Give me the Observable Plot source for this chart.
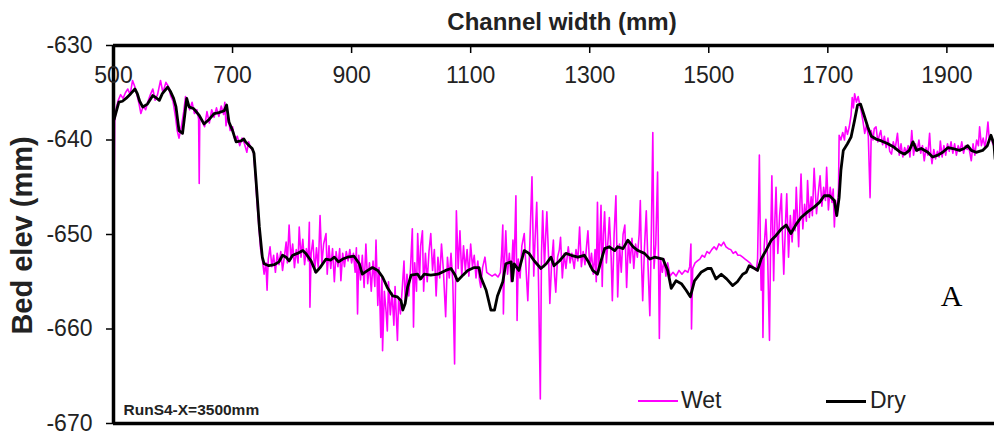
<!DOCTYPE html>
<html><head><meta charset="utf-8">
<script src="https://cdn.jsdelivr.net/npm/d3@7"></script>
<script src="https://cdn.jsdelivr.net/npm/@observablehq/plot@0.6"></script>
<style>
body{margin:0;background:#fff;}
#wrap{position:relative;width:995px;height:432px;font-family:"Liberation Sans",Arial,sans-serif;}
.sw{position:absolute;height:0;}
.lg{position:absolute;font-size:23px;line-height:23px;color:#222;}
</style></head><body><div id="wrap"></div>
<script>
const xTicks = [500, 700, 900, 1100, 1300, 1500, 1700, 1900];
const yTicks = [-630, -640, -650, -660, -670];
const seriesNames = ["Wet", "Dry"];

// Wet profile: [channel width mm, bed elevation mm]
const wetSeries = [
[500,-637.5],[501,-646.0],[502,-638.0],[505,-636.5],[508,-635.8],[512,-635.2],[516,-635.6],[520,-635.0],[524,-634.6],[528,-635.2],
[532,-633.7],[536,-634.4],[540,-635.4],[543,-636.2],[546,-637.2],[550,-636.4],[554,-636.8],[558,-635.9],[562,-635.2],[566,-634.6],
[570,-635.8],[574,-635.2],[579,-633.7],[583,-635.0],[588,-633.9],[592,-634.3],[596,-635.3],[600,-635.9],[604,-637.5],[607,-639.0],
[610,-639.8],[614,-638.6],[618,-637.0],[621,-635.4],[624,-636.0],[628,-636.8],[632,-636.0],[636,-637.2],[640,-636.8],[643,-637.8],
[644,-644.6],[645,-637.5],[649,-638.0],[653,-638.6],[657,-637.0],[661,-638.2],[665,-636.8],[669,-637.6],[673,-636.6],[677,-637.5],
[681,-636.4],[685,-637.3],[687,-636.0],[689,-638.5],[692,-637.3],[696,-639.0],[700,-638.6],[704,-640.0],[708,-639.6],[712,-640.6],
[716,-639.8],[720,-640.4],[724,-641.3],[727,-640.2],[731,-640.9],[735,-641.2],[738,-643.5],[741,-646.5],[744,-649.0],[747,-651.5],
[750,-652.6],[753,-654.2],[756,-653.0],[758,-655.9],[760,-652.6],[763,-651.3],[766,-653.4],[769,-652.2],[772,-654.0],[775,-652.0],
[778,-653.2],[781,-651.8],[784,-653.8],[787,-652.4],[790,-650.8],[792,-653.0],[795,-649.0],[798,-652.6],[801,-651.0],[804,-653.5],
[807,-651.6],[810,-653.0],[812,-649.2],[815,-652.4],[818,-650.5],[821,-653.2],[824,-651.5],[827,-652.8],[829,-648.7],[830,-657.7],
[832,-652.0],[835,-650.6],[838,-654.0],[841,-651.4],[844,-653.6],[847,-648.0],[850,-653.2],[853,-651.0],[857,-649.9],[859,-654.2],
[862,-651.2],[865,-653.6],[868,-651.5],[871,-655.0],[874,-651.8],[877,-653.4],[880,-651.5],[882,-654.9],[885,-652.0],[888,-653.4],
[891,-651.8],[894,-652.8],[897,-651.6],[900,-653.0],[903,-652.0],[906,-654.0],[908,-651.4],[910,-658.4],[912,-652.2],[915,-654.8],
[918,-652.2],[921,-655.6],[924,-651.0],[927,-655.2],[930,-653.0],[933,-656.0],[936,-652.8],[939,-655.5],[941,-650.6],[944,-657.5],
[946,-653.5],[949,-660.9],[951,-654.5],[952,-662.3],[955,-656.0],[958,-658.2],[960,-660.2],[962,-655.0],[965,-658.5],[968,-656.2],
[971,-659.6],[973,-655.5],[975,-658.5],[977,-661.2],[979,-656.8],[982,-658.4],[985,-655.8],[988,-652.8],[990,-657.0],[993,-654.2],
[996,-656.5],[999,-653.5],[1002,-649.4],[1004,-659.8],[1006,-653.0],[1009,-656.0],[1011,-649.9],[1014,-654.8],[1016,-651.2],[1019,-649.6],
[1021,-656.0],[1024,-652.0],[1027,-655.0],[1030,-651.8],[1033,-649.9],[1036,-653.8],[1039,-651.6],[1042,-656.5],[1045,-652.4],[1048,-654.6],
[1051,-651.0],[1054,-653.6],[1058,-658.7],[1061,-652.4],[1064,-654.6],[1067,-652.0],[1070,-655.0],[1073,-663.7],[1076,-647.5],[1079,-653.6],
[1082,-649.6],[1085,-654.5],[1088,-651.2],[1091,-653.8],[1094,-651.6],[1097,-654.4],[1100,-651.0],[1103,-653.4],[1106,-652.2],[1109,-654.6],
[1112,-652.8],[1115,-654.9],[1117,-655.6],[1120,-653.5],[1124,-652.4],[1127,-654.0],[1131,-654.2],[1136,-654.4],[1141,-654.2],[1146,-654.5],
[1150,-654.0],[1152,-652.0],[1154,-649.0],[1155,-658.4],[1157,-652.6],[1159,-649.6],[1162,-654.2],[1165,-652.0],[1168,-655.0],[1171,-650.6],
[1173,-653.4],[1176,-645.9],[1178,-659.1],[1180,-652.6],[1183,-654.6],[1186,-651.2],[1190,-649.9],[1193,-653.6],[1196,-657.0],[1199,-651.8],
[1203,-643.9],[1206,-654.4],[1208,-650.8],[1211,-646.6],[1214,-655.0],[1217,-667.4],[1219,-652.0],[1221,-647.5],[1224,-653.4],[1226,-650.2],
[1228,-647.6],[1231,-652.6],[1233,-657.3],[1236,-653.0],[1239,-650.6],[1241,-654.4],[1243,-656.1],[1246,-652.4],[1249,-651.6],[1251,-650.3],
[1254,-654.6],[1257,-652.0],[1260,-653.6],[1264,-651.3],[1267,-653.0],[1270,-652.0],[1274,-653.6],[1277,-651.6],[1280,-652.8],[1283,-649.2],
[1286,-653.4],[1289,-651.8],[1292,-653.2],[1295,-651.0],[1297,-649.6],[1300,-653.4],[1303,-652.0],[1306,-654.2],[1309,-651.6],[1311,-655.0],
[1313,-646.6],[1315,-654.0],[1317,-650.8],[1319,-646.9],[1321,-655.5],[1323,-650.0],[1325,-647.6],[1328,-653.0],[1331,-650.4],[1333,-648.2],
[1336,-652.4],[1338,-657.0],[1341,-650.0],[1344,-645.9],[1347,-656.6],[1350,-651.0],[1353,-654.0],[1356,-650.0],[1359,-649.0],[1362,-655.6],
[1365,-650.6],[1368,-653.0],[1371,-650.4],[1374,-653.6],[1377,-651.0],[1380,-652.4],[1383,-650.0],[1385,-646.4],[1387,-653.0],[1389,-657.0],
[1392,-651.4],[1395,-647.5],[1398,-653.4],[1401,-658.6],[1403,-652.0],[1406,-639.2],[1408,-653.6],[1411,-651.0],[1414,-643.4],[1417,-661.0],
[1419,-652.6],[1422,-654.0],[1425,-652.6],[1428,-654.4],[1431,-653.0],[1435,-654.4],[1440,-654.0],[1445,-654.4],[1450,-653.8],[1455,-654.2],
[1460,-653.8],[1465,-654.0],[1468,-653.4],[1470,-651.0],[1471,-660.0],[1473,-653.6],[1477,-653.0],[1481,-652.8],[1485,-652.6],[1489,-652.2],
[1493,-652.4],[1497,-651.8],[1501,-652.0],[1505,-651.6],[1509,-651.3],[1513,-651.6],[1517,-651.0],[1521,-651.2],[1525,-650.8],[1529,-651.3],
[1533,-651.5],[1537,-651.6],[1541,-652.0],[1545,-651.8],[1549,-652.2],[1553,-652.2],[1557,-652.4],[1561,-652.6],[1565,-652.8],[1569,-653.0],
[1573,-653.3],[1577,-653.6],[1580,-653.8],[1582,-652.6],[1585,-641.6],[1587,-652.8],[1588,-655.9],[1590,-652.4],[1591,-660.9],[1593,-651.4],
[1596,-648.4],[1599,-652.6],[1602,-661.2],[1604,-650.2],[1606,-643.8],[1609,-654.9],[1611,-648.6],[1613,-645.0],[1616,-652.0],[1619,-648.0],
[1622,-645.7],[1624,-650.6],[1626,-654.2],[1629,-648.6],[1631,-645.7],[1634,-652.4],[1637,-648.0],[1640,-650.8],[1643,-647.4],[1645,-649.6],
[1647,-645.0],[1651,-651.3],[1653,-647.0],[1655,-643.6],[1658,-649.4],[1661,-646.8],[1664,-648.6],[1666,-644.3],[1669,-648.2],[1672,-646.0],
[1674,-648.0],[1677,-643.0],[1681,-647.8],[1684,-645.6],[1687,-643.8],[1690,-647.0],[1693,-645.0],[1696,-646.4],[1698,-642.9],[1701,-647.4],
[1704,-645.0],[1707,-646.6],[1709,-645.2],[1711,-649.2],[1713,-646.4],[1716,-647.6],[1718,-645.0],[1719,-639.5],[1722,-640.0],[1725,-639.2],
[1728,-640.0],[1730,-638.6],[1733,-639.4],[1736,-638.6],[1739,-637.4],[1741,-635.5],[1743,-636.6],[1745,-635.1],[1748,-636.0],[1751,-635.4],
[1754,-636.4],[1756,-636.9],[1759,-638.0],[1762,-639.3],[1765,-638.4],[1768,-639.6],[1771,-646.1],[1773,-639.0],[1776,-640.0],[1778,-638.8],
[1781,-638.6],[1784,-640.2],[1787,-639.4],[1789,-639.0],[1792,-640.5],[1795,-639.6],[1798,-640.8],[1801,-639.8],[1804,-641.2],[1807,-641.5],
[1810,-640.2],[1813,-641.0],[1817,-639.3],[1820,-641.6],[1823,-640.4],[1826,-641.8],[1829,-640.8],[1832,-641.4],[1835,-640.6],[1838,-641.8],
[1841,-639.0],[1844,-641.6],[1847,-640.4],[1850,-641.2],[1853,-640.0],[1856,-641.4],[1859,-640.6],[1862,-642.2],[1865,-640.8],[1868,-641.6],
[1871,-639.3],[1873,-641.4],[1875,-642.5],[1878,-641.0],[1881,-642.0],[1884,-641.2],[1887,-641.8],[1889,-640.1],[1892,-641.8],[1895,-640.6],
[1898,-641.6],[1901,-640.4],[1904,-641.2],[1907,-640.2],[1910,-641.4],[1913,-640.4],[1916,-641.6],[1919,-640.6],[1922,-641.2],[1925,-640.2],
[1928,-641.4],[1931,-640.6],[1934,-641.0],[1937,-640.8],[1941,-642.2],[1944,-640.4],[1947,-641.6],[1950,-640.0],[1953,-640.6],[1955,-638.6],
[1958,-640.6],[1961,-639.8],[1964,-640.8],[1967,-639.4],[1969,-638.1],[1971,-639.8],[1974,-639.6],[1977,-640.4],[1980,-640.7]
];

// Dry profile: [channel width mm, bed elevation mm]
const drySeries = [
[501,-637.8],[502,-637.6],[509,-636.0],[515,-635.9],[521,-635.6],[529,-635.1],[536,-634.6],[540,-635.1],[544,-635.9],[549,-636.5],
[557,-636.2],[566,-635.3],[571,-635.5],[577,-635.8],[582,-635.1],[591,-634.4],[596,-634.9],[601,-635.6],[605,-636.5],[608,-638.0],
[610,-639.0],[616,-639.3],[620,-637.2],[623,-635.6],[627,-636.5],[635,-636.7],[644,-637.4],[652,-638.3],[661,-637.8],[669,-637.2],
[677,-637.1],[686,-636.9],[690,-636.3],[694,-638.1],[700,-639.0],[706,-640.2],[714,-640.1],[719,-639.9],[722,-640.2],[728,-640.6],
[733,-640.9],[736,-641.4],[739,-643.9],[742,-646.5],[745,-649.2],[750,-652.4],[753,-653.1],[761,-653.3],[770,-653.2],[778,-652.9],
[784,-652.2],[790,-652.4],[795,-652.8],[801,-652.2],[809,-652.0],[818,-651.7],[823,-652.0],[832,-652.8],[840,-654.0],[847,-653.5],
[857,-652.6],[865,-652.7],[871,-652.4],[878,-652.9],[885,-652.6],[893,-652.4],[904,-652.3],[913,-653.1],[918,-654.2],[927,-653.8],
[935,-653.5],[944,-653.8],[952,-654.5],[960,-655.6],[969,-656.5],[977,-656.6],[983,-657.0],[986,-658.0],[990,-657.3],[994,-655.6],
[1000,-654.3],[1011,-654.2],[1016,-654.7],[1022,-654.2],[1033,-654.3],[1045,-654.2],[1058,-653.8],[1067,-653.6],[1073,-654.2],[1078,-654.9],
[1087,-654.3],[1095,-653.8],[1106,-653.5],[1114,-653.5],[1117,-654.5],[1126,-655.9],[1134,-658.0],[1140,-658.0],[1145,-656.5],[1154,-655.0],
[1159,-653.1],[1168,-652.9],[1170,-654.9],[1173,-653.1],[1181,-653.8],[1190,-651.7],[1198,-652.0],[1207,-652.8],[1218,-653.6],[1227,-653.1],
[1235,-652.4],[1240,-653.3],[1249,-652.8],[1260,-652.0],[1269,-652.2],[1280,-652.4],[1291,-652.2],[1297,-652.8],[1305,-653.8],[1313,-654.2],
[1319,-652.8],[1325,-651.5],[1333,-651.3],[1342,-651.7],[1347,-651.3],[1356,-651.5],[1364,-650.6],[1373,-651.3],[1381,-651.7],[1392,-652.0],
[1401,-652.6],[1409,-652.4],[1423,-652.6],[1431,-653.8],[1437,-655.7],[1445,-654.9],[1454,-655.2],[1462,-655.9],[1469,-656.6],[1476,-654.9],
[1487,-654.0],[1498,-653.6],[1504,-653.6],[1512,-654.7],[1521,-654.2],[1530,-654.7],[1540,-655.4],[1548,-655.0],[1557,-654.2],[1563,-654.0],
[1568,-653.3],[1577,-653.6],[1582,-653.8],[1588,-652.6],[1596,-651.7],[1605,-650.6],[1613,-650.1],[1622,-649.4],[1630,-649.0],[1638,-649.9],
[1647,-648.9],[1655,-648.2],[1666,-647.6],[1677,-647.1],[1686,-646.6],[1694,-645.9],[1703,-645.9],[1711,-646.4],[1715,-648.0],[1719,-646.1],
[1722,-643.2],[1726,-641.1],[1733,-640.4],[1739,-639.7],[1745,-637.9],[1750,-636.3],[1755,-636.2],[1760,-637.2],[1767,-638.6],[1773,-639.6],
[1781,-639.9],[1790,-640.1],[1801,-640.4],[1812,-640.8],[1822,-641.3],[1829,-641.5],[1837,-641.1],[1843,-640.2],[1849,-641.1],[1857,-640.9],
[1868,-641.3],[1876,-641.8],[1885,-641.6],[1893,-641.3],[1902,-640.8],[1910,-640.9],[1921,-641.1],[1929,-640.9],[1935,-640.6],[1941,-641.1],
[1949,-641.3],[1960,-641.1],[1968,-640.6],[1974,-639.5],[1979,-640.4],[1981,-642.0]
];

const wet = wetSeries.map(([x, y]) => ({x, y}));
const dry = drySeries.map(([x, y]) => ({x, y}));

const font = "Liberation Sans, Arial, sans-serif";
const chart = Plot.plot({
  width: 995, height: 432,
  marginTop: 45, marginBottom: 9, marginLeft: 113, marginRight: 1,
  style: {fontFamily: font, background: "white", color: "#222"},
  x: {domain: [500, 1980]},
  y: {domain: [-670, -630]},
  marks: [
    Plot.line(wet, {x: "x", y: "y", stroke: "#ff00ff", strokeWidth: 1.6, clip: true}),
    Plot.line(dry, {x: "x", y: "y", stroke: "#000", strokeWidth: 2.8, strokeLinejoin: "round", clip: true}),
    Plot.ruleY([-630, -670], {stroke: "#000", strokeWidth: 3.5}),
    Plot.ruleX([500], {stroke: "#000", strokeWidth: 3.5}),
    Plot.axisX({anchor: "top", ticks: xTicks, tickSize: -7, tickFormat: () => "", label: null, strokeWidth: 1.5, stroke: "#000"}),
    Plot.text(xTicks, {x: d => d, frameAnchor: "top", dy: 30, text: d => String(d), fontSize: 23, fill: "#222", lineAnchor: "middle"}),
    Plot.axisY({anchor: "left", ticks: yTicks, tickSize: 7, tickPadding: 14, fontSize: 23, label: null, tickFormat: d => String(d), strokeWidth: 1.5, stroke: "#000", fill: "#222"}),
    Plot.text(["Channel width (mm)"], {frameAnchor: "top", dx: 8, dy: -23, fontSize: 24, fontWeight: "bold", fill: "#222", lineAnchor: "middle"}),
    Plot.text(["Bed elev (mm)"], {frameAnchor: "left", textAnchor: "middle", rotate: -90, dx: -91, dy: 1, fontSize: 29, fontWeight: "bold", fill: "#222", lineAnchor: "middle"}),
    Plot.text(["RunS4-X=3500mm"], {frameAnchor: "bottom-left", dx: 10, dy: -13, textAnchor: "start", fontSize: 15.5, fontWeight: "bold", fill: "#222", lineAnchor: "middle"}),
    Plot.text(["A"], {frameAnchor: "bottom-right", dx: -32, dy: -118, fontSize: 30, fontFamily: "Liberation Serif, Times New Roman, serif", fill: "#000", lineAnchor: "bottom"})
  ]
});
const wrap = document.getElementById("wrap");
wrap.appendChild(chart);

// legend
const legendDefs = [
  {name: seriesNames[0], color: "#ff00ff", w: 2, sx: 638, tx: 681},
  {name: seriesNames[1], color: "#000", w: 3, sx: 826, tx: 870}
];
for (const d of legendDefs) {
  const s = document.createElement("div");
  s.className = "sw";
  s.style.left = d.sx + "px"; s.style.width = "40px";
  s.style.top = (401 - d.w / 2) + "px";
  s.style.borderTop = d.w + "px solid " + d.color;
  wrap.appendChild(s);
  const t = document.createElement("div");
  t.className = "lg";
  t.style.left = d.tx + "px"; t.style.top = "389px";
  t.textContent = d.name;
  wrap.appendChild(t);
}
</script></body></html>
